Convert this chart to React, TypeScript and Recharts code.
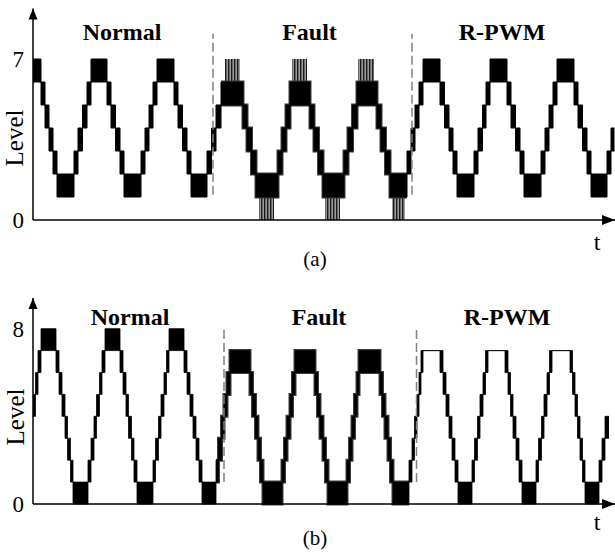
import { Area, ComposedChart, ReferenceArea, ReferenceDot, ReferenceLine, XAxis, YAxis } from 'recharts'

const FONT = '"Liberation Serif", "Times New Roman", serif'

// (a) PWM bands: band i runs from edges[i] to edges[i+1], switching between low[i] and low[i]+1
const aEdges = [
  // normal
  0, 8, 12, 16, 20, 24, 41, 45, 49.5, 54, 58, 74, 78, 82.5, 87, 91, 108, 112, 116, 120, 124, 141, 145, 149.5, 154,
  158, 174, 178.5, 183, 188,
  // fault
  210, 214, 218.5, 223, 245, 249, 253, 257, 277, 281, 285.5, 290, 311, 315, 319.5, 324, 344, 348, 352.5, 357, 374,
  // R-PWM
  378, 382, 386, 390, 407, 411.5, 416, 420, 424, 441, 445, 449.5, 453, 457, 474, 478, 482.5, 487, 491, 508, 512, 516,
  520, 524, 541, 545, 549.5, 554, 558, 574, 578, 581.5,
]
const aLow = [
  6, 5, 4, 3, 2, 1, 2, 3, 4, 5, 6, 5, 4, 3, 2, 1, 2, 3, 4, 5, 6, 5, 4, 3, 2, 1, 2, 3, 4,
  5, 4, 3, 2, 1, 2, 3, 4, 5, 4, 3, 2, 1, 2, 3, 4, 5, 4, 3, 2, 1,
  2, 3, 4, 5, 6, 5, 4, 3, 2, 1, 2, 3, 4, 5, 6, 5, 4, 3, 2, 1, 2, 3, 4, 5, 6, 5, 4, 3, 2, 1, 2, 3,
]
// grey spikes reaching the outer levels during the fault
const aSpikeStart = [192, 259, 325, 226, 292, 359]
const aSpikeEnd = [207, 274, 341, 241, 307, 372]
const aSpikeLow = [6, 6, 6, 0, 0, 0]
const aDashes = [180, 379]
const aFault = [188, 374]

// (b)
const bEdges = [
  // normal
  0, 2.5, 5, 8, 23, 26, 29, 32, 34.5, 37.5, 40, 55, 58, 61, 63.5, 66.5, 69, 72, 87, 90, 93, 95.5, 98.5, 101, 104,
  120, 122.5, 125.5, 128, 131, 133.5, 136, 151, 154, 157, 160, 163, 166, 169, 183,
  // fault
  185.5, 188.5, 191, 194, 197, 217, 219.5, 222.5, 225, 227.5, 230, 249, 251.5, 254, 257, 259.5, 262, 282, 284.5, 287,
  290, 292.5, 295, 314, 316.5, 319, 321.5, 324, 326, 347, 349.5, 352, 355, 357.5, 360, 376,
  // R-PWM
  379, 381.5, 384, 386, 388, 390, 407, 410, 413, 416, 419, 422, 425, 439, 441.5, 444.5, 447, 450, 452.5, 455, 472,
  475, 477.5, 480, 483, 486, 489, 503, 505.5, 508.5, 511, 514, 516.5, 519, 537, 539.5, 542, 544.5, 547, 549.5, 552,
  566, 569, 572, 576,
]
const bLow = [
  4, 5, 6, 7, 6, 5, 4, 3, 2, 1, 0, 1, 2, 3, 4, 5, 6, 7, 6, 5, 4, 3, 2, 1, 0, 1, 2, 3, 4, 5, 6, 7, 6, 5, 4, 3, 2, 1, 0,
  1, 2, 3, 4, 5, 6, 5, 4, 3, 2, 1, 0, 1, 2, 3, 4, 5, 6, 5, 4, 3, 2, 1, 0, 1, 2, 3, 4, 5, 6, 5, 4, 3, 2, 1, 0,
  1, 2, 3, 4, 5, 6, 7, 6, 5, 4, 3, 2, 1, 0, 1, 2, 3, 4, 5, 6, 7, 6, 5, 4, 3, 2, 1, 0, 1, 2, 3, 4, 5, 6, 7, 6, 5, 4,
  3, 2, 1, 0, 1, 2, 3,
]
// R-PWM tops held at level 7 (no switching)
const bFlatStart = [390, 455, 519]
const bDashes = [191, 383.5]
const bFault = [183, 376]

const sections = ['Normal', 'Fault', 'R-PWM']

type Row = { t: number; range: [number, number]; fault?: [number, number] }

function buildRows(edges: number[], low: number[], fault: number[], flat: number[] = []) {
  const rows: Row[] = []
  low.forEach((lo, i) => {
    const hi = flat.includes(edges[i]) ? lo : lo + 1
    const inFault = edges[i] >= fault[0] && edges[i + 1] <= fault[1]
    const f: [number, number] | undefined = inFault ? [lo, hi] : undefined
    rows.push({ t: edges[i], range: [lo, hi], fault: f }, { t: edges[i + 1], range: [lo, hi], fault: f })
  })
  return rows
}

const upArrow = (p: any) => (
  <polygon points={`${p.cx},${p.cy} ${p.cx - 4.5},${p.cy + 11} ${p.cx + 4.5},${p.cy + 11}`} fill="#000" />
)
const rightArrow = (p: any) => (
  <polygon points={`${p.cx},${p.cy} ${p.cx - 13},${p.cy - 5} ${p.cx - 13},${p.cy + 5}`} fill="#000" />
)

interface PanelProps {
  rows: Row[]
  yMax: number
  topTick: number
  dashes: number[]
  dashY: [number, number]
  margin: { top: number; bottom: number }
  stroke: number
  spikes?: { x1: number; x2: number; lo: number }[]
}

function Panel({ rows, yMax, topTick, dashes, dashY, margin, stroke, spikes = [] }: PanelProps) {
  return (
    <ComposedChart width={615} height={250} data={rows} margin={{ top: margin.top, right: 0, bottom: margin.bottom, left: 0 }}>
      <XAxis type="number" dataKey="t" domain={[0, 582]} hide />
      <YAxis
        type="number"
        domain={[0, yMax]}
        ticks={[0, topTick]}
        width={33}
        axisLine={false}
        tickLine={false}
        tickSize={0}
        tickMargin={9}
        tick={{ fontSize: 23, fill: '#000', fontFamily: FONT }}
      />
      {spikes.map((s, i) => (
        <ReferenceArea key={i} x1={s.x1} x2={s.x2} y1={s.lo} y2={s.lo + 1} fill="url(#spikes)" fillOpacity={1} stroke="none" />
      ))}
      {dashes.map((x) => (
        <ReferenceLine
          key={x}
          segment={[{ x, y: dashY[0] }, { x, y: dashY[1] }]}
          stroke="#808080"
          strokeWidth={1.5}
          strokeDasharray="9 4"
        />
      ))}
      <Area
        dataKey="fault"
        type="linear"
        stroke="#3c3c3c"
        strokeWidth={3}
        fill="none"
        dot={false}
        activeDot={false}
        isAnimationActive={false}
      />
      <Area
        dataKey="range"
        type="linear"
        stroke="#000"
        strokeWidth={stroke}
        fill="#000"
        fillOpacity={1}
        dot={false}
        activeDot={false}
        isAnimationActive={false}
      />
      <ReferenceLine x={0} stroke="#000" strokeWidth={1.5} />
      <ReferenceLine y={0} stroke="#000" strokeWidth={1.5} />
      <ReferenceDot x={0} y={yMax} r={4} shape={upArrow} />
      <ReferenceDot x={582} y={0} r={4} shape={rightArrow} />
    </ComposedChart>
  )
}

export default function App() {
  const aRows = buildRows(aEdges, aLow, aFault)
  const bRows = buildRows(bEdges, bLow, bFault, bFlatStart)
  const aSpikes = aSpikeStart.map((x1, i) => ({ x1, x2: aSpikeEnd[i], lo: aSpikeLow[i] }))
  const titleA = [122, 309.5, 502]
  const titleB = [130, 319, 507]

  return (
    <div style={{ position: 'absolute', left: 0, top: 0, width: 615, height: 555, background: '#fff' }}>
      <svg width={0} height={0} style={{ position: 'absolute' }}>
        <defs>
          <pattern id="spikes" patternUnits="userSpaceOnUse" width={3} height={4}>
            <rect width={3} height={4} fill="#9a9a9a" />
            <rect width={1.4} height={4} fill="#1a1a1a" />
          </pattern>
        </defs>
      </svg>
      <div style={{ position: 'absolute', left: 0, top: 0 }}>
        <Panel
          rows={aRows}
          yMax={9.2}
          topTick={7}
          dashes={aDashes}
          dashY={[1.1, 8.1]}
          margin={{ top: 8.4, bottom: 30 }}
          stroke={1}
          spikes={aSpikes}
        />
      </div>
      <div style={{ position: 'absolute', left: 0, top: 290 }}>
        <Panel rows={bRows} yMax={9.4} topTick={8} dashes={bDashes} dashY={[1.0, 8.1]} margin={{ top: 8, bottom: 36 }} stroke={0.8} />
      </div>
      <svg width={615} height={555} style={{ position: 'absolute', left: 0, top: 0, pointerEvents: 'none' }}>
        <g fontFamily={FONT} fill="#000">
          {sections.map((s, i) => (
            <text key={'a' + s} x={titleA[i]} y={40} fontSize={24} fontWeight="bold" textAnchor="middle">
              {s}
            </text>
          ))}
          {sections.map((s, i) => (
            <text key={'b' + s} x={titleB[i]} y={325} fontSize={24} fontWeight="bold" textAnchor="middle">
              {s}
            </text>
          ))}
          <text x={0} y={0} fontSize={25} textAnchor="middle" transform="translate(23,138) rotate(-90)">
            Level
          </text>
          <text x={0} y={0} fontSize={25} textAnchor="middle" transform="translate(24,417) rotate(-90)">
            Level
          </text>
          <text x={597} y={250} fontSize={24} textAnchor="middle">t</text>
          <text x={597} y={530} fontSize={24} textAnchor="middle">t</text>
          <text x={315} y={266} fontSize={21} textAnchor="middle">(a)</text>
          <text x={315} y={545} fontSize={21} textAnchor="middle">(b)</text>
        </g>
      </svg>
    </div>
  )
}
